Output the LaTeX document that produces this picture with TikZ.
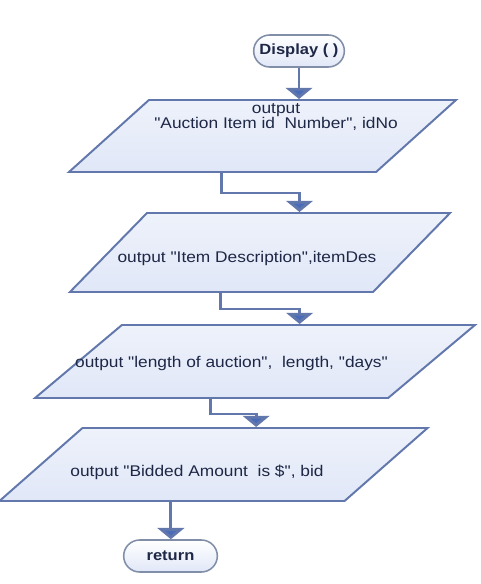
\documentclass[tikz,border=0pt]{standalone}
\usepackage{fontspec}
\setmainfont[FakeStretch=1.12,Ligatures=TeXOff]{Liberation Sans}
\usetikzlibrary{shapes.misc,arrows.meta}

\definecolor{edgeblue}{RGB}{98,120,172}
\definecolor{tipblue}{RGB}{72,108,186}
\definecolor{fillblue}{RGB}{224,231,247}
\definecolor{pillgray}{RGB}{128,142,168}
\definecolor{inkblue}{RGB}{30,40,70}

\tikzset{
  io/.style={rectangle, draw=edgeblue, line width=1.4pt, transform shape,
    top color=fillblue!55!white, bottom color=fillblue, inner sep=0pt},
  term/.style={rounded rectangle, draw=pillgray, line width=1.1pt, top color=white,
    bottom color=fillblue, minimum width=2.5cm, minimum height=0.8cm,
    font=\bfseries\fontsize{10.5}{12}\selectfont, text=inkblue},
  txt/.style={font=\fontsize{11}{13}\selectfont, text=inkblue, align=center},
  flow/.style={draw=edgeblue, line width=2pt, -{Triangle[width=19pt,length=8pt,fill=tipblue]}}
}

\begin{document}
\begin{tikzpicture}[x=0.025cm,y=-0.025cm]

\useasboundingbox (0,0) rectangle (480,584);

\node[term] (disp) at (299,51) {Display ( )};

\node[io, xslant=1.11, minimum width=7.675cm, minimum height=1.8cm] (p1) at (262.5,136) {};
\node[txt] (t1) at (276,117) {output\\[-2pt] "Auction Item id\ \ Number", idNo};

\node[io, xslant=0.975, minimum width=7.575cm, minimum height=1.975cm] (p2) at (260,252.5) {};
\node[txt] (t2) at (247,258) {output "Item Description",itemDes};

\node[io, xslant=1.19, minimum width=8.825cm, minimum height=1.825cm] (p3) at (255,361.5) {};
\node[txt] (t3) at (231.5,363) {output "length of auction",\ \ length, "days"};

\node[io, xslant=1.137, minimum width=8.625cm, minimum height=1.825cm] (p4) at (213.5,464.5) {};
\node[txt] (t4) at (197,472) {output "Bidded Amount\ \ is \$", bid};

\node[term, minimum width=2.575cm] (ret) at (170.5,556) {return};

\draw[flow] (disp.south) -- (disp.south |- p1.north);
\draw[flow] (p1.south) -- ++(0,20) -| (p2.north);
\draw[flow] (p2.south) -- ++(0,16) -| (p3.north);
\draw[flow] (p3.south) -- ++(0,15) -| (p4.north);
\draw[flow] (p4.south) -- (p4.south |- ret.north);

\end{tikzpicture}
\end{document}
